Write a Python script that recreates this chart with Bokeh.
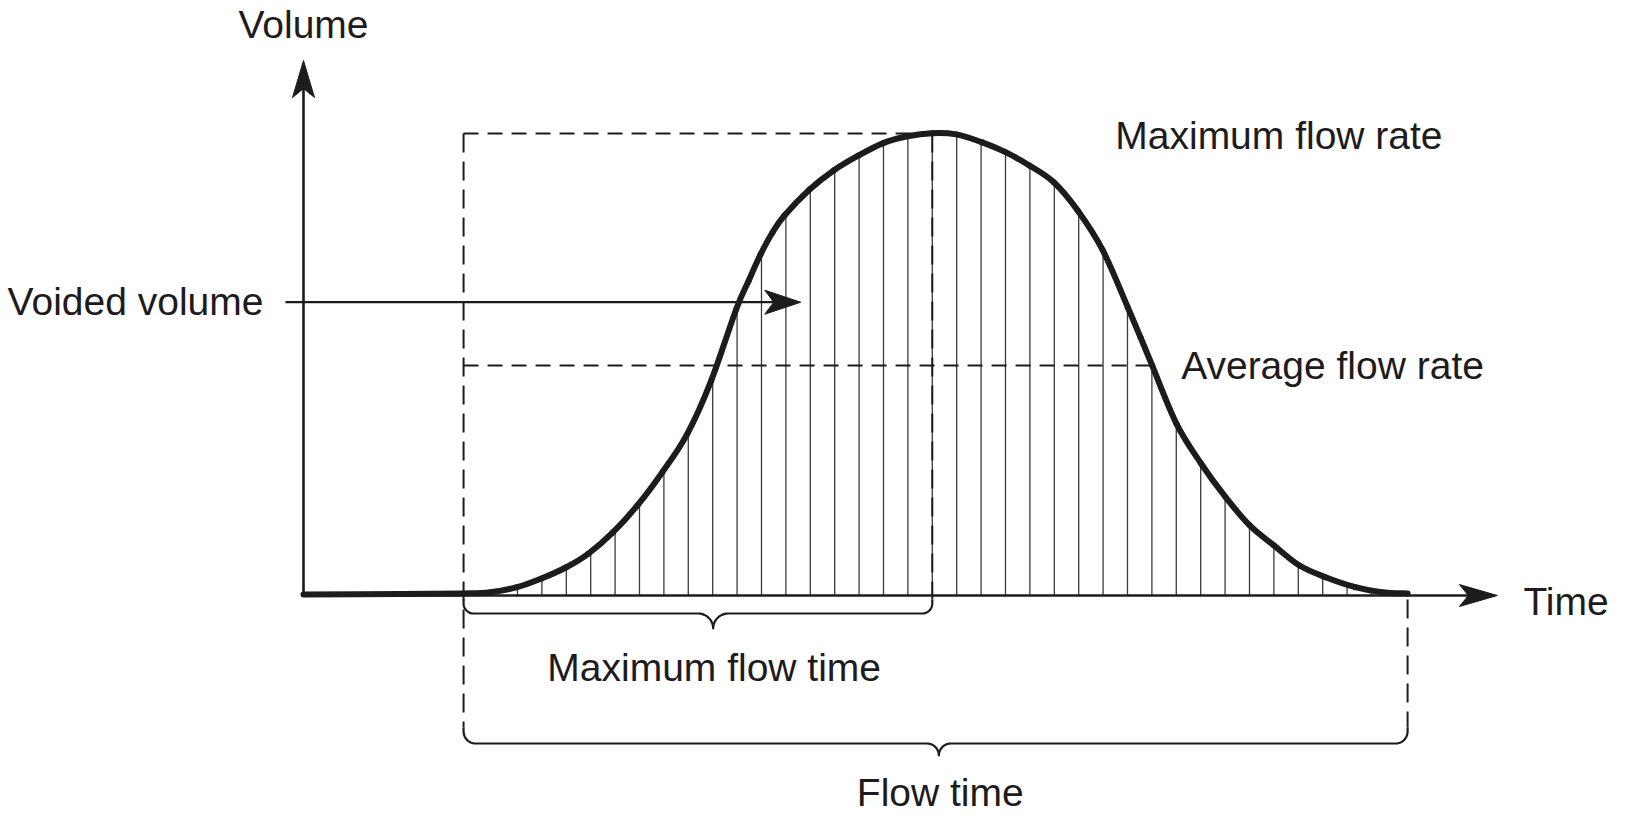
import numpy as np
from bokeh.plotting import figure
from bokeh.models import Range1d
from bokeh.embed import file_html
from bokeh.resources import INLINE
from bokeh.core.properties import value

# ---------------- data (time in s, flow rate in ml/s) ----------------
curve_t = [0.0, 3.98, 6.56, 7.66, 8.75, 9.75, 10.77, 11.68, 12.69, 13.68, 14.70,
           15.73, 16.71, 17.73, 18.25, 18.73, 19.22, 19.71, 20.74, 21.73, 22.75,
           23.76, 24.75, 25.77, 26.76, 27.79, 28.77, 29.75, 30.75, 31.73, 32.76,
           33.78, 34.30, 34.78, 35.78, 36.79, 37.79, 38.78, 39.77, 40.82, 41.89,
           43.11, 44.18, 45.25]
curve_flow = [0.05, 0.08, 0.11, 0.18, 0.45, 0.92, 1.53, 2.27, 3.43, 4.87, 6.66,
              8.75, 11.63, 15.48, 17.05, 18.45, 19.64, 20.56, 21.97, 23.00, 23.81,
              24.48, 24.85, 25.02, 24.95, 24.53, 23.99, 23.27, 22.36, 20.83, 18.67,
              15.60, 13.98, 12.45, 9.29, 7.13, 5.32, 3.79, 2.71, 1.62, 0.99,
              0.45, 0.18, 0.11]

flow_start = 6.56
peak_time = 25.77
flow_end = 45.25
max_flow = 25.0
avg_flow = 12.45
avg_cross_time = 34.78
voided_arrow_flow = 15.87
voided_arrow_from = -0.74
voided_arrow_to = 20.38
time_axis_end = 48.93
volume_axis_end = 28.95
max_time_brace_tip = 16.79
flow_time_brace_tip = 26.04

label_volume = "Volume"
label_time = "Time"
label_voided = "Voided volume"
label_max_rate = "Maximum flow rate"
label_avg_rate = "Average flow rate"
label_max_time = "Maximum flow time"
label_flow_time = "Flow time"

# ---------------- layout / style ----------------
W, H = 1618, 817
PX_T = 24.4      # pixels per second
PX_F = 18.48     # pixels per flow unit
ORIGIN_X = 303   # canvas px of t = 0
ORIGIN_Y = 595   # canvas px of flow = 0
INK = "#1e1b1c"
FONT = value("Liberation Sans")
FSIZE = "39px"
TEXT_DY = -12    # baseline correction for rendered text


def to_px(t, f):
    return ORIGIN_X + t * PX_T, ORIGIN_Y - f * PX_F


def to_data(X, Y):
    return (X - ORIGIN_X) / PX_T, (ORIGIN_Y - Y) / PX_F


def offset(t, f, dx, dy):
    X, Y = to_px(t, f)
    return to_data(X + dx, Y + dy)


p = figure(width=W, height=H, output_backend="svg", toolbar_location=None,
           x_axis_type=None, y_axis_type=None, min_border=0,
           x_range=Range1d(-ORIGIN_X / PX_T, (W - ORIGIN_X) / PX_T),
           y_range=Range1d(-(H - ORIGIN_Y) / PX_F, ORIGIN_Y / PX_F))
p.outline_line_color = None
p.background_fill_color = "white"
p.border_fill_color = "white"


def arrowhead(tip_t, tip_f, ux, uy, length=37, half=11, notch=9):
    X, Y = to_px(tip_t, tip_f)
    px_, py_ = -uy, ux
    pts = [(X, Y),
           (X - length * ux + half * px_, Y - length * uy + half * py_),
           (X - (length - notch) * ux, Y - (length - notch) * uy),
           (X - length * ux - half * px_, Y - length * uy - half * py_)]
    d = [to_data(a, b) for a, b in pts]
    p.patch([q[0] for q in d], [q[1] for q in d], fill_color=INK, line_color=INK, line_width=1)


def brace(t0, t1, tm, y_line_px, y_end_px, y_tip_px, r=10):
    x0, _ = to_px(t0, 0)
    x1, _ = to_px(t1, 0)
    xm, _ = to_px(tm, 0)
    yl = ORIGIN_Y + y_line_px
    ye = ORIGIN_Y + y_end_px
    yt = ORIGIN_Y + y_tip_px
    r = min(r, yl - ye)
    r2 = yt - yl
    X, Y = [x0], [ye]
    for th in np.linspace(np.pi, np.pi / 2, 12):
        X.append(x0 + r + r * np.cos(th)); Y.append(yl - r + r * np.sin(th))
    for th in np.linspace(-np.pi / 2, 0, 12):
        X.append(xm - r2 + r2 * np.cos(th)); Y.append(yl + r2 + r2 * np.sin(th))
    for th in np.linspace(np.pi, 1.5 * np.pi, 12):
        X.append(xm + r2 + r2 * np.cos(th)); Y.append(yl + r2 + r2 * np.sin(th))
    for th in np.linspace(np.pi / 2, 0, 12):
        X.append(x1 - r + r * np.cos(th)); Y.append(yl - r + r * np.sin(th))
    X.append(x1); Y.append(ye)
    d = [to_data(a, b) for a, b in zip(X, Y)]
    p.line([q[0] for q in d], [q[1] for q in d], line_color=INK, line_width=2.2,
           line_join="round")


# hatch lines under the curve
hatch_t = np.arange(peak_time - 18, peak_time + 18.5, 1.0)
hatch_top = np.interp(hatch_t, curve_t, curve_flow)
p.segment(x0=hatch_t, y0=np.zeros_like(hatch_t), x1=hatch_t, y1=hatch_top,
          line_color="#3a3a3a", line_width=1.3)

# dashed guide lines
DASH_H = "15 9"
DASH_V = "19 9"
brace1_end = to_data(0, ORIGIN_Y + 4)[1]
brace2_end = to_data(0, ORIGIN_Y + 132)[1]
p.line([flow_start, peak_time], [max_flow, max_flow], line_color=INK, line_width=2, line_dash=DASH_H)
p.line([flow_start, avg_cross_time], [avg_flow, avg_flow], line_color=INK, line_width=2, line_dash=DASH_H)
p.line([flow_start, flow_start], [max_flow, brace2_end], line_color=INK, line_width=2, line_dash=DASH_V)
p.line([peak_time, peak_time], [max_flow, brace1_end], line_color=INK, line_width=2, line_dash=DASH_V)
p.line([flow_end, flow_end], [brace1_end, brace2_end], line_color=INK, line_width=2, line_dash=DASH_V)

# axes
p.line([0, 0], [0, volume_axis_end - 25 / PX_F], line_color=INK, line_width=2.6)
p.line([0, time_axis_end - 25 / PX_T], [0, 0], line_color=INK, line_width=2.6)
arrowhead(0, volume_axis_end, 0, -1, length=37, half=11, notch=9)
arrowhead(time_axis_end, 0, 1, 0, length=38, half=11, notch=9)

# voided volume arrow
p.line([voided_arrow_from, voided_arrow_to - 25 / PX_T], [voided_arrow_flow, voided_arrow_flow],
       line_color=INK, line_width=2.2)
arrowhead(voided_arrow_to, voided_arrow_flow, 1, 0, length=36, half=12, notch=9)

# flow curve, drawn as smooth Catmull-Rom bezier pieces through the read points
ct = np.array(curve_t)
cf = np.array(curve_flow)
pt = np.concatenate([[ct[0]], ct, [ct[-1]]])
pf = np.concatenate([[cf[0]], cf, [cf[-1]]])
n = len(ct) - 1
x0s, y0s = pt[1:n + 1], pf[1:n + 1]
x1s, y1s = pt[2:n + 2], pf[2:n + 2]
c0x = x0s + (pt[2:n + 2] - pt[0:n]) / 6.0
c0y = y0s + (pf[2:n + 2] - pf[0:n]) / 6.0
c1x = x1s - (pt[3:n + 3] - pt[1:n + 1]) / 6.0
c1y = y1s - (pf[3:n + 3] - pf[1:n + 1]) / 6.0
p.bezier(x0=x0s, y0=y0s, x1=x1s, y1=y1s, cx0=c0x, cy0=c0y, cx1=c1x, cy1=c1y,
         line_color=INK, line_width=6, line_cap="round")

# braces
brace(flow_start, peak_time, max_time_brace_tip, 18, 4, 33, r=10)
brace(flow_start, flow_end, flow_time_brace_tip, 148, 132, 160, r=12)

# labels
TXT = dict(text_font=FONT, text_font_size=FSIZE, text_color=INK, text_baseline="alphabetic")
vx, vy = offset(0, volume_axis_end, 0, -24 + TEXT_DY)
mtx, mty = offset(max_time_brace_tip, 0, 1, 83.7 + TEXT_DY)
ftx, fty = offset(flow_time_brace_tip, 0, 1.4, 209 + TEXT_DY)
p.text(x=[vx, mtx, ftx], y=[vy, mty, fty], text=[label_volume, label_max_time, label_flow_time],
       text_align="center", **TXT)

wx, wy = offset(voided_arrow_from, voided_arrow_flow, -22, 11.5 + TEXT_DY)
p.text(x=[wx], y=[wy], text=[label_voided], text_align="right", **TXT)

mrx, mry = offset(peak_time, max_flow, 183, 13.5 + TEXT_DY)
arx, ary = offset(avg_cross_time, avg_flow, 29, 12.5 + TEXT_DY)
tx, ty = offset(time_axis_end, 0, 26, 17.7 + TEXT_DY)
p.text(x=[mrx, arx, tx], y=[mry, ary, ty], text=[label_max_rate, label_avg_rate, label_time],
       text_align="left", **TXT)

open("out.html", "w").write(file_html(p, INLINE))
